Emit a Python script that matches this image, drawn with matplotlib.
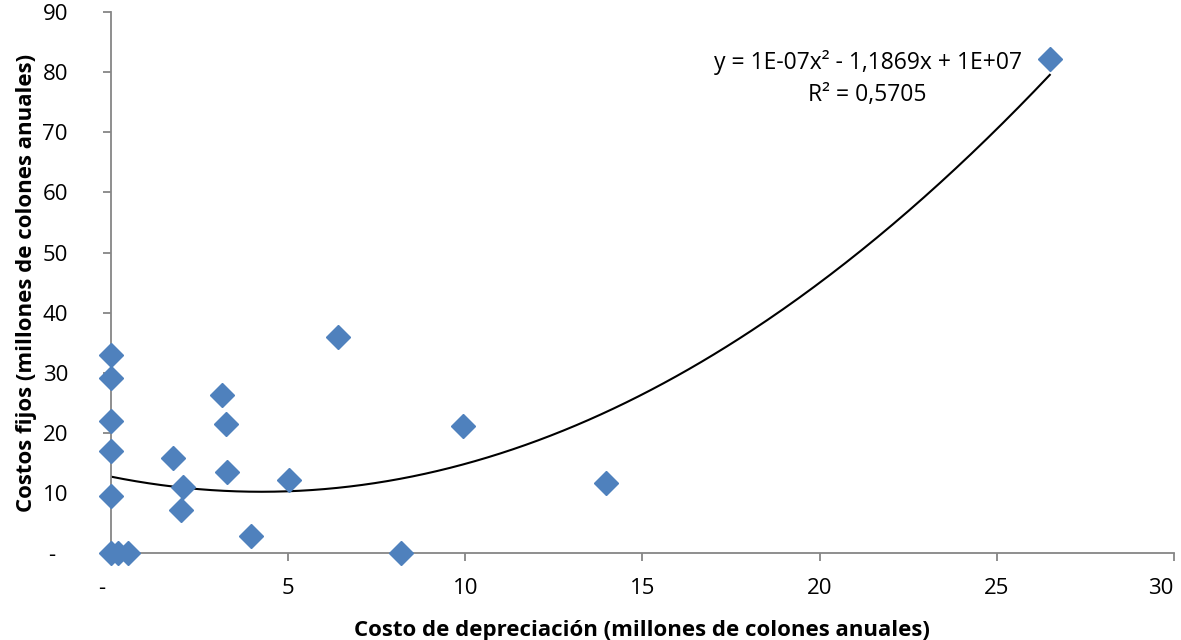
import matplotlib
matplotlib.use("Agg")
import matplotlib.pyplot as plt
import numpy as np

# Data (millions of colones per year)
depreciation = [0.0, 0.0, 0.0, 0.0, 0.0, 0.0, 0.2, 0.47, 1.76, 2.02, 1.97,
                3.14, 3.24, 3.27, 3.95, 5.02, 6.41, 8.19, 9.94, 13.98, 26.5]
fixed_costs = [32.9, 29.2, 22.0, 17.0, 9.4, 0.0, 0.0, 0.0, 15.8, 10.9, 7.2,
               26.3, 21.5, 13.5, 2.8, 12.1, 35.9, 0.0, 21.1, 11.6, 82.2]
# Polynomial trendline (order 2), in millions
trend_coef = [0.14, -1.1869, 12.7]
x_ticks = [0, 5, 10, 15, 20, 25, 30]
x_ticklabels = ["-   ", "5", "10", "15", "20", "25", "30"]
y_ticks = [0, 10, 20, 30, 40, 50, 60, 70, 80, 90]
y_ticklabels = ["-  ", "10", "20", "30", "40", "50", "60", "70", "80", "90"]
equation_text = "y = 1E-07x² - 1,1869x + 1E+07\nR² = 0,5705"

plt.rcParams['font.family'] = ['Open Sans', 'DejaVu Sans']

fig = plt.figure(figsize=(11.81, 6.40), dpi=100)
ax = fig.add_axes([0.094, 0.136, 0.8999, 0.845])

x = np.array(depreciation)
y = np.array(fixed_costs)
xs = np.linspace(x.min(), x.max(), 300)
ax.plot(xs, np.polyval(trend_coef, xs), color='black', lw=1.5, zorder=2)

ax.plot(x, y, linestyle='none', marker='D', markersize=12,
        color='#4F81BD', markeredgecolor='#4F81BD', zorder=3, clip_on=False)

ax.set_xlim(0, 30)
ax.set_ylim(0, 90)
ax.set_xticks(x_ticks)
ax.set_xticklabels(x_ticklabels)
ax.set_yticks(y_ticks)
ax.set_yticklabels(y_ticklabels)

for s in ['top', 'right']:
    ax.spines[s].set_visible(False)
for s in ['left', 'bottom']:
    ax.spines[s].set_color('#868686')
    ax.spines[s].set_linewidth(1.3)
ax.tick_params(axis='both', colors='#868686', labelcolor='black',
               labelsize=16, length=6, width=1.3, direction='out')
ax.tick_params(axis='x', pad=12)
ax.tick_params(axis='y', pad=25)
for lab in ax.get_yticklabels():
    lab.set_horizontalalignment('right')
ax.get_xticklabels()[-1].set_horizontalalignment('right')
ax.get_xticklabels()[-1].set_x(30.2)

ax.set_xlabel("Costo de depreciación (millones de colones anuales)",
              fontsize=16, fontweight='bold', labelpad=15)
ax.set_ylabel("Costos fijos (millones de colones anuales)",
              fontsize=16, fontweight='bold', labelpad=4)

ax.text(21.36, 79.0, equation_text, ha='center', va='center',
        fontsize=16.5, linespacing=1.45)

fig.savefig("out.png", dpi=100)
